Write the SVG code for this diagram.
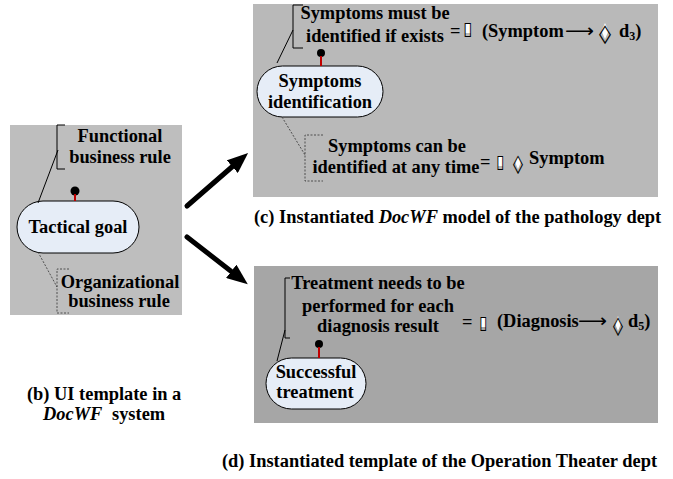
<svg xmlns="http://www.w3.org/2000/svg" width="673" height="479" viewBox="0 0 673 479">
<defs>
<style>
.t{font-family:"Liberation Serif","Times New Roman",serif;font-weight:bold;font-size:18.4px;fill:#000}
.m{text-anchor:middle}
.i{font-style:italic}
.g{font-family:"DejaVu Sans",sans-serif;font-weight:normal;fill:#000}
.br{fill:none;stroke:#000;stroke-width:1}
.dot{fill:none;stroke:#333;stroke-width:0.8;stroke-dasharray:2 1.5}
.ell{fill:#e6edf7;stroke:#000;stroke-width:1}
.pin{stroke:#c00000;stroke-width:2}
.wb{fill:#fff;stroke:none}
.arr{stroke:#000;stroke-width:5;stroke-linecap:round;fill:none;marker-end:url(#ah)}
</style>
<marker id="ah" markerUnits="strokeWidth" markerWidth="4.2" markerHeight="3.4" refX="0.2" refY="1.7" orient="auto">
<path d="M0,0 L4.2,1.7 L0,3.4 z" fill="#000"/>
</marker>
</defs>
<rect width="673" height="479" fill="#fff"/>

<g id="panel-b">
<rect x="10" y="125" width="172" height="190" fill="#bebebe"/>
<path class="br" d="M65,125 H57 V169 H65"/>
<text class="t m" x="120" y="142">Functional</text>
<text class="t m" x="120" y="163">business rule</text>
<path class="dot" d="M69,269 H57 V313 H69"/>
<text class="t m" x="120" y="288">Organizational</text>
<text class="t m" x="119" y="307">business rule</text>
</g>

<g id="tactical-goal">
<rect class="ell" x="17" y="201" width="122" height="52" rx="26"/>
<text class="t m" x="78" y="233">Tactical goal</text>
</g>

<g id="panel-c">
<rect x="253" y="4" width="405" height="193" fill="#b9b9b9"/>
<path class="br" d="M303,5 H293 V48 H303"/>
<text class="t m" x="375" y="19">Symptoms must be</text>
<text class="t m" x="375" y="42">identified if exists</text>
<text class="t" x="450" y="37">=</text>
<rect class="wb" x="465" y="23" width="6" height="10"/>
<text class="t g" x="463" y="35" font-size="18" textLength="9" lengthAdjust="spacingAndGlyphs">▯</text>
<text class="t" x="482" y="37">(Symptom</text>
<text class="t g" x="565" y="37" font-size="18" textLength="29" lengthAdjust="spacingAndGlyphs">⟶</text>
<polygon class="wb" points="605,23 608.5,31 605,39 601.5,31"/>
<text class="t g" x="599" y="40" font-size="28" textLength="12" lengthAdjust="spacingAndGlyphs">◊</text>
<text class="t" x="619" y="37">d<tspan font-size="12" dy="3">3</tspan><tspan dy="-3">)</tspan></text>
<path class="dot" d="M323,135 H305 V181 H323"/>
<text class="t m" x="397" y="152">Symptoms can be</text>
<text class="t m" x="396" y="173">identified at any time</text>
<text class="t" x="480" y="168">=</text>
<rect class="wb" x="498" y="157" width="5" height="9"/>
<text class="t g" x="496" y="168" font-size="15" textLength="8" lengthAdjust="spacingAndGlyphs">▯</text>
<polygon class="wb" points="518,155 521,162 518,169 515,162"/>
<text class="t g" x="513" y="170" font-size="23" textLength="10" lengthAdjust="spacingAndGlyphs">◊</text>
<text class="t" x="529" y="164">Symptom</text>
<text class="t" x="254" y="223">(c) Instantiated <tspan class="i">DocWF</tspan> model of the pathology dept</text>
</g>

<g id="symptoms-identification">
<rect class="ell" x="257" y="66" width="126" height="51" rx="25.5"/>
<text class="t m" x="320" y="87">Symptoms</text>
<text class="t m" x="320" y="108">identification</text>
</g>

<g id="panel-d">
<rect x="254" y="266" width="404" height="157" fill="#a6a6a6"/>
<path class="br" d="M290,278 H285 V338 H290"/>
<text class="t m" x="378" y="289">Treatment needs to be</text>
<text class="t m" x="378" y="312">performed for each</text>
<text class="t m" x="378" y="332">diagnosis result</text>
<text class="t" x="462" y="328">=</text>
<rect class="wb" x="481" y="318" width="5" height="9"/>
<text class="t g" x="479" y="329" font-size="15" textLength="8" lengthAdjust="spacingAndGlyphs">▯</text>
<text class="t" x="497" y="327">(Diagnosis</text>
<text class="t g" x="578" y="327" font-size="18" textLength="29" lengthAdjust="spacingAndGlyphs">⟶</text>
<polygon class="wb" points="618,316 621,323.5 618,331 615,323.5"/>
<text class="t g" x="613" y="332" font-size="23" textLength="10" lengthAdjust="spacingAndGlyphs">◊</text>
<text class="t" x="628" y="327">d<tspan font-size="12" dy="3">5</tspan><tspan dy="-3">)</tspan></text>
<text class="t" x="222" y="467">(d) Instantiated template of the Operation Theater dept</text>
</g>

<g id="successful-treatment">
<rect class="ell" x="266" y="358" width="100" height="51" rx="25.5"/>
<text class="t m" x="316" y="378">Successful</text>
<text class="t m" x="315" y="398">treatment</text>
</g>

<g id="connectors">
<line class="br" x1="58" y1="150" x2="38" y2="203"/>
<line class="dot" x1="38" y1="252" x2="57" y2="287"/>
<circle cx="75" cy="191" r="4.5" fill="#000"/>
<line class="pin" x1="75" y1="194" x2="75" y2="201"/>
<line class="br" x1="293" y1="30" x2="277" y2="63"/>
<line class="dot" x1="282" y1="117" x2="305" y2="155"/>
<circle cx="321" cy="53" r="4" fill="#000"/>
<line class="pin" x1="321" y1="56" x2="321" y2="66"/>
<line class="br" x1="285" y1="330" x2="277" y2="361"/>
<circle cx="319" cy="344" r="4" fill="#000"/>
<line class="pin" x1="319" y1="347" x2="319" y2="358"/>
<line class="arr" x1="187" y1="206" x2="233" y2="166"/>
<line class="arr" x1="187" y1="237" x2="232" y2="272"/>
</g>

<g id="captions">
<text class="t" x="27" y="400">(b) UI template in a</text>
<text class="t" x="43" y="420"><tspan class="i">DocWF</tspan><tspan x="112">system</tspan></text>
</g>
</svg>
